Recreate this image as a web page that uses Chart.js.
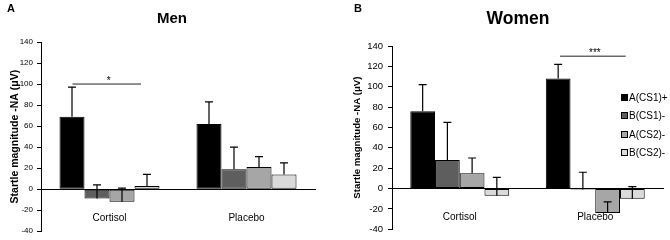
<!DOCTYPE html>
<html lang="en">
<head>
<meta charset="UTF-8">
<title>Startle magnitude - Men / Women</title>
<script src="https://cdn.jsdelivr.net/npm/chart.js"></script>
<style>
  body { margin: 0; background: #fff; font-family: "Liberation Sans", Arial, sans-serif; color: #000; }
  #wrap { position: relative; width: 670px; height: 240px; overflow: hidden; }
  canvas { position: absolute; top: 0; }
  .txt { position: absolute; font-weight: bold; line-height: 1; transform: translate(-50%, -50%); white-space: nowrap; }
  #legend { position: absolute; left: 621px; top: 88px; font-size: 10px; }
  #legend .item { height: 18.5px; display: flex; align-items: center; }
  #legend .box { width: 5px; height: 5px; border: 1px solid #000; margin-right: 1px; }
</style>
</head>
<body>
<div id="wrap">
  <canvas id="menChart" width="330" height="240" style="left:0"></canvas>
  <canvas id="womenChart" width="340" height="240" style="left:330px"></canvas>
  <div class="txt" style="left:11px; top:8px; font-size:11px">A</div>
  <div class="txt" style="left:172px; top:17px; font-size:15px">Men</div>
  <div class="txt" style="left:358px; top:8px; font-size:11px">B</div>
  <div class="txt" style="left:518px; top:19px; font-size:17.5px">Women</div>
  <div id="legend"></div>
</div>

<script>
    // categories and series
    const categories = ['Cortisol', 'Placebo'];
    const seriesNames = ['A(CS1)+', 'B(CS1)-', 'A(CS2)-', 'B(CS2)-'];
    const seriesColors = ['#000000', '#5e5e5e', '#a6a6a6', '#dadada'];
    const yMin = -40, yMax = 140, yStep = 20;
    const yTitle = 'Startle magnitude -NA (μV)';

    // Men: means and SE (error bar goes up from the mean)
    const menCS1plus = [69, 62];
    const menCS1minus = [-9, 19];
    const menCS2A = [-12, 21];
    const menCS2B = [3, 14];
    const menCS1plusErr = [28, 21];
    const menCS1minusErr = [13, 21];
    const menCS2AErr = [13, 10];
    const menCS2BErr = [11, 11];

    // Women
    const womenCS1plus = [76, 108];
    const womenCS1minus = [28, -1];
    const womenCS2A = [15, -24];
    const womenCS2B = [-7, -10];
    const womenCS1plusErr = [26, 14];
    const womenCS1minusErr = [37, 17];
    const womenCS2AErr = [15, 11];
    const womenCS2BErr = [18, 12];

    Chart.defaults.font.family = '"Liberation Sans", Arial, sans-serif';
    Chart.defaults.color = '#000';

    // error bars drawn on top of the bars
    const errorBars = {
        id: 'errorBars',
        afterDatasetsDraw(chart) {
            const ctx = chart.ctx;
            const y = chart.scales.y;
            chart.data.datasets.forEach((ds, i) => {
                chart.getDatasetMeta(i).data.forEach((bar, j) => {
                    const y0 = y.getPixelForValue(ds.data[j]);
                    const y1 = y.getPixelForValue(ds.data[j] + ds.errors[j]);
                    ctx.save();
                    ctx.strokeStyle = '#000';
                    ctx.lineWidth = 1.2;
                    ctx.beginPath();
                    ctx.moveTo(bar.x, y0);
                    ctx.lineTo(bar.x, y1);
                    ctx.moveTo(bar.x - 4, y1);
                    ctx.lineTo(bar.x + 4, y1);
                    ctx.stroke();
                    ctx.restore();
                });
            });
        }
    };

    // significance line with stars
    const sigLine = {
        id: 'sigLine',
        afterDraw(chart, args, opts) {
            const ctx = chart.ctx;
            const x1 = chart.scales.x.getPixelForValue(opts.cat + opts.from);
            const x2 = chart.scales.x.getPixelForValue(opts.cat + opts.to);
            const yy = chart.scales.y.getPixelForValue(opts.value);
            ctx.save();
            ctx.strokeStyle = '#222';
            ctx.lineWidth = 1;
            ctx.beginPath();
            ctx.moveTo(x1, yy);
            ctx.lineTo(x2, yy);
            ctx.stroke();
            ctx.fillStyle = '#000';
            ctx.font = '10px "Liberation Sans", Arial, sans-serif';
            ctx.textAlign = 'center';
            ctx.textBaseline = 'bottom';
            ctx.fillText(opts.label, (x1 + x2) / 2 + 2, yy + 2);
            ctx.restore();
        }
    };

    function makeDatasets(values, errors) {
        return seriesNames.map((name, i) => ({
            label: name,
            data: values[i],
            errors: errors[i],
            backgroundColor: seriesColors[i],
            borderColor: '#000',
            borderWidth: 1,
            borderSkipped: false,
            barPercentage: 1,
            categoryPercentage: 0.73
        }));
    }

    function makeChart(id, values, errors, cfg) {
        return new Chart(document.getElementById(id), {
            type: 'bar',
            data: { labels: categories, datasets: makeDatasets(values, errors) },
            plugins: [errorBars, sigLine],
            options: {
                responsive: false,
                animation: false,
                devicePixelRatio: 1,
                layout: { padding: cfg.padding },
                plugins: {
                    legend: { display: false },
                    tooltip: { enabled: false },
                    sigLine: cfg.sig
                },
                scales: {
                    x: {
                        position: { y: 0 },
                        grid: { display: false, drawTicks: false },
                        border: { color: '#000', width: 1 },
                        ticks: { color: '#000', padding: cfg.xPad, font: { size: 10 } }
                    },
                    y: {
                        min: yMin,
                        max: yMax,
                        ticks: { stepSize: yStep, color: '#000', padding: cfg.tickPad, font: { size: cfg.tickSize } },
                        grid: { display: true, drawOnChartArea: false, drawTicks: true, tickLength: 4, color: '#000' },
                        border: { color: '#000', width: 1 },
                        title: {
                            display: true,
                            text: yTitle,
                            color: '#000',
                            padding: 0,
                            font: { size: cfg.titleSize, weight: 'bold' }
                        },
                        afterFit(scale) { scale.width = cfg.yWidth; }
                    }
                }
            }
        });
    }

    makeChart('menChart',
        [menCS1plus, menCS1minus, menCS2A, menCS2B],
        [menCS1plusErr, menCS1minusErr, menCS2AErr, menCS2BErr],
        {
            padding: { left: 9, right: 15, top: 42, bottom: 7 },
            yWidth: 32, tickSize: 8, tickPad: 4, titleSize: 10.5, xPad: 23,
            sig: { cat: 0, from: -0.27, to: 0.23, value: 100, label: '*' }
        });

    makeChart('womenChart',
        [womenCS1plus, womenCS1minus, womenCS2A, womenCS2B],
        [womenCS1plusErr, womenCS1minusErr, womenCS2AErr, womenCS2BErr],
        {
            padding: { left: 22, right: 7, top: 46, bottom: 8 },
            yWidth: 40, tickSize: 9.5, tickPad: 5, titleSize: 9.6, xPad: 23,
            sig: { cat: 1, from: -0.26, to: 0.225, value: 130, label: '***' }
        });

    // legend (panel B)
    const legend = document.getElementById('legend');
    seriesNames.forEach((name, i) => {
        const item = document.createElement('div');
        item.className = 'item';
        item.innerHTML = '<span class="box" style="background:' + seriesColors[i] + '"></span>' + name;
        legend.appendChild(item);
    });
</script>
</body>
</html>
